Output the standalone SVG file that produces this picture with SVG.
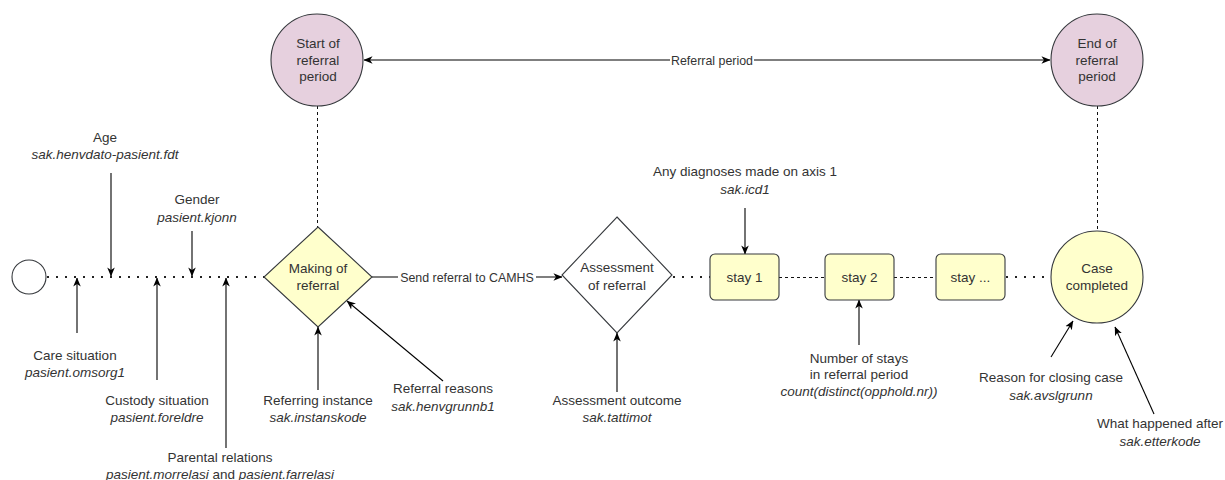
<svg xmlns="http://www.w3.org/2000/svg" width="1225" height="480" viewBox="0 0 1225 480">
<defs>
<marker id="arr" viewBox="0 0 10 10" refX="9.5" refY="5" markerWidth="9" markerHeight="9" markerUnits="userSpaceOnUse" orient="auto-start-reverse">
<path d="M0,0.8 L10,5 L0,9.2 L2.8,5 Z" fill="#000"/>
</marker>
<style>
.t{font-family:"Liberation Sans",Arial,Helvetica,sans-serif;font-size:13.5px;fill:#333;text-anchor:middle}
.i{font-style:italic}
.e{font-family:"Liberation Sans",Arial,Helvetica,sans-serif;font-size:12.4px;fill:#333;text-anchor:middle}
.ln{fill:none;stroke:#000;stroke-width:1.1}
.dot{fill:none;stroke:#222;stroke-width:2;stroke-dasharray:2 7}
.dash{fill:none;stroke:#111;stroke-width:1;stroke-dasharray:3 3}
.ar{marker-end:url(#arr)}
.purple{fill:#e6d0de;stroke:#36393d;stroke-width:1.1}
.yellow{fill:#ffffcc;stroke:#36393d;stroke-width:1.1}
.white{fill:#fff;stroke:#36393d;stroke-width:1.1}
</style>
</defs>
<rect width="1225" height="480" fill="#fff"/>
<g id="connectors">
<line class="dot" x1="47" y1="277" x2="264" y2="277"/>
<line class="ln ar" x1="372" y1="277" x2="562" y2="277"/>
<rect x="398" y="268" width="138" height="18" fill="#fff"/>
<text class="e" x="467" y="281.5">Send referral to CAMHS</text>
<line class="dot" x1="673" y1="277" x2="710" y2="277"/>
<line class="dash" x1="779" y1="277.5" x2="825" y2="277.5"/>
<line class="dash" x1="894" y1="277.5" x2="936" y2="277.5"/>
<line class="dot" x1="1006" y1="277" x2="1051" y2="277"/>
<line class="dash" x1="317.5" y1="106" x2="317.5" y2="227"/>
<line class="dash" x1="1097.5" y1="106" x2="1097.5" y2="230"/>
<line class="ln" x1="364" y1="60" x2="1050" y2="60" marker-start="url(#arr)" marker-end="url(#arr)"/>
<rect x="670" y="52" width="84" height="17" fill="#fff"/>
<text class="e" x="712" y="65">Referral period</text>
<line class="ln ar" x1="111" y1="173" x2="111" y2="276"/>
<line class="ln ar" x1="192" y1="231" x2="192" y2="276"/>
<line class="ln ar" x1="77" y1="333" x2="77" y2="278"/>
<line class="ln ar" x1="157" y1="380" x2="157" y2="278"/>
<line class="ln ar" x1="226" y1="448" x2="226" y2="278"/>
<line class="ln ar" x1="318" y1="390" x2="318" y2="327"/>
<line class="ln ar" x1="443" y1="381" x2="347" y2="301"/>
<line class="ln ar" x1="617" y1="392" x2="617" y2="333"/>
<line class="ln ar" x1="745" y1="208" x2="745" y2="254"/>
<line class="ln ar" x1="859" y1="345" x2="859" y2="300"/>
<line class="ln ar" x1="1051" y1="357" x2="1073" y2="321"/>
<line class="ln ar" x1="1154" y1="414" x2="1115" y2="327"/>
</g>
<g id="start"><circle class="white" cx="29" cy="277" r="17"/></g>
<g id="start-referral">
<circle class="purple" cx="317" cy="60" r="46"/>
<text class="t" x="318" y="48">Start of</text>
<text class="t" x="318" y="64.5">referral</text>
<text class="t" x="318" y="81">period</text>
</g>
<g id="end-referral">
<circle class="purple" cx="1097" cy="60" r="46"/>
<text class="t" x="1097" y="48">End of</text>
<text class="t" x="1097" y="64.5">referral</text>
<text class="t" x="1097" y="81">period</text>
</g>
<g id="making">
<polygon class="yellow" points="318,227 372,277 318,327 264,277"/>
<text class="t" x="318" y="273">Making of</text>
<text class="t" x="318" y="290">referral</text>
</g>
<g id="assessment">
<polygon class="white" points="617,217 672,275 617,333 562,275"/>
<text class="t" x="617" y="272">Assessment</text>
<text class="t" x="617" y="290">of referral</text>
</g>
<g id="stay1"><rect class="yellow" x="710" y="254" width="69" height="46" rx="5"/><text class="t" x="744.5" y="282">stay 1</text></g>
<g id="stay2"><rect class="yellow" x="825" y="254" width="69" height="46" rx="5"/><text class="t" x="859.5" y="282">stay 2</text></g>
<g id="stay3"><rect class="yellow" x="936" y="254" width="69" height="46" rx="5"/><text class="t" x="970.5" y="282">stay ...</text></g>
<g id="case-completed">
<circle class="yellow" cx="1097" cy="277" r="46"/>
<text class="t" x="1097" y="273">Case</text>
<text class="t" x="1097" y="290">completed</text>
</g>
<g id="age"><text class="t" x="105" y="142">Age</text><text class="t i" x="105" y="159">sak.henvdato-pasient.fdt</text></g>
<g id="gender"><text class="t" x="197" y="204">Gender</text><text class="t i" x="197" y="222">pasient.kjonn</text></g>
<g id="care"><text class="t" x="75" y="360">Care situation</text><text class="t i" x="75" y="377">pasient.omsorg1</text></g>
<g id="custody"><text class="t" x="157" y="405">Custody situation</text><text class="t i" x="157" y="422">pasient.foreldre</text></g>
<g id="parental"><text class="t" x="220" y="462">Parental relations</text><text class="t" x="220" y="479"><tspan font-style="italic">pasient.morrelasi</tspan> and <tspan font-style="italic">pasient.farrelasi</tspan></text></g>
<g id="referring"><text class="t" x="318" y="405">Referring instance</text><text class="t i" x="318" y="422">sak.instanskode</text></g>
<g id="reasons"><text class="t" x="443" y="393">Referral reasons</text><text class="t i" x="443" y="411">sak.henvgrunnb1</text></g>
<g id="outcome"><text class="t" x="617" y="405">Assessment outcome</text><text class="t i" x="617" y="422">sak.tattimot</text></g>
<g id="diagnoses"><text class="t" x="745" y="176">Any diagnoses made on axis 1</text><text class="t i" x="745" y="194">sak.icd1</text></g>
<g id="numstays"><text class="t" x="859" y="363">Number of stays</text><text class="t" x="859" y="379">in referral period</text><text class="t i" x="859" y="396">count(distinct(opphold.nr))</text></g>
<g id="closing"><text class="t" x="1051" y="382">Reason for closing case</text><text class="t i" x="1051" y="400">sak.avslgrunn</text></g>
<g id="after"><text class="t" x="1160" y="428">What happened after</text><text class="t i" x="1160" y="446">sak.etterkode</text></g>
</svg>
